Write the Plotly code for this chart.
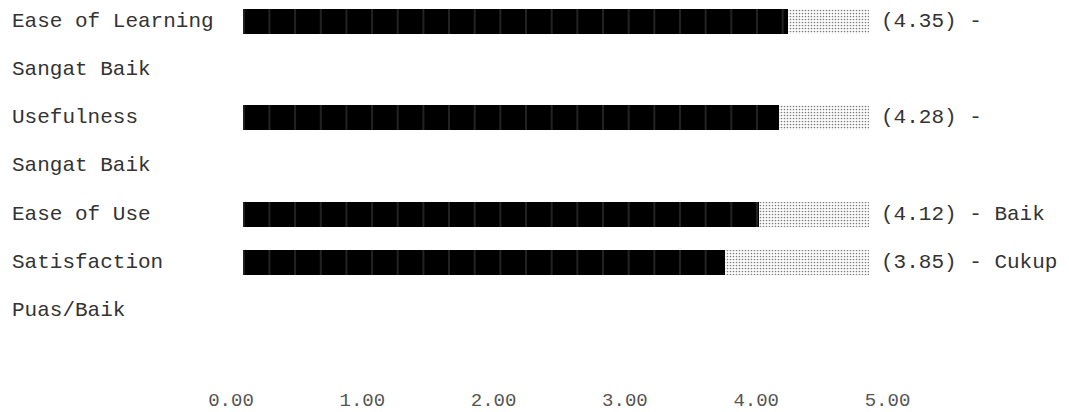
import plotly.graph_objects as go

# ---------------- data ----------------
categories = ["Ease of Learning", "Usefulness", "Ease of Use", "Satisfaction"]
scores = [4.35, 4.28, 4.12, 3.85]
ratings = ["Sangat Baik", "Sangat Baik", "Baik", "Cukup Puas/Baik"]
scale_max = 5.0
tick_values = [0, 1, 2, 3, 4, 5]
tick_labels = ["0.00", "1.00", "2.00", "3.00", "4.00", "5.00"]

# ---------------- layout parameters ----------------
W, H = 1069, 412
FONT = "Courier New, Liberation Mono, monospace"
TEXT_COLOR = "#333333"
BAR_LEFT_PX, BAR_RIGHT_PX = 243, 869      # pixel of 0 and scale_max on bar axis
RULER0_PX, RULER_STEP_PX = 231, 131.3     # ruler line (text ruler in reference)
ROW0_PX, ROW_H_PX = 21, 48.3
PLOT_BOTTOM_PX = 386
SUFFIX_CHARS = 14                          # room left on the line after the bar
BAR_THICK_PX = 25


def wrap_suffix(head, words, limit):
    line, rest = head, []
    for w in words:
        cand = line + " " + w
        if not rest and len(cand) <= limit:
            line = cand
        else:
            rest.append(w)
    return line, " ".join(rest)


bar_rows, suffix_text, cont_rows, cont_text = [], [], [], []
r = 0
for cat, v, rt in zip(categories, scores, ratings):
    first, rest = wrap_suffix(f"({v:.2f}) -", rt.split(), SUFFIX_CHARS)
    bar_rows.append(r)
    suffix_text.append(first)
    r += 1
    if rest:
        cont_rows.append(r)
        cont_text.append(rest)
        r += 1

remain = [scale_max - v for v in scores]

fig = go.Figure()
fig.add_trace(go.Bar(
    x=scores, y=bar_rows, orientation="h", width=BAR_THICK_PX / ROW_H_PX,
    marker=dict(color="black", line_width=0,
                pattern=dict(shape="|", size=25.66, solidity=1 / 25.66,
                             fgcolor="#8a8a8a", bgcolor="black")),
    hoverinfo="skip", showlegend=False,
))
fig.add_trace(go.Bar(
    x=remain, base=scores, y=bar_rows, orientation="h", width=BAR_THICK_PX / ROW_H_PX,
    marker=dict(color="white", line_width=0,
                pattern=dict(shape=".", size=3, solidity=0.25,
                             fgcolor="#000000", bgcolor="white")),
    hoverinfo="skip", showlegend=False,
))
# invisible trace that carries the ruler axis
fig.add_trace(go.Scatter(
    x=tick_values, y=[None] * len(tick_values), xaxis="x2", mode="markers",
    hoverinfo="skip", showlegend=False,
))

annotations = []
for cat, row in zip(categories, bar_rows):
    annotations.append(dict(text=cat, x=0, xref="paper", y=row, yref="y",
                            xanchor="left", xshift=10, showarrow=False))
for txt, row in zip(suffix_text, bar_rows):
    annotations.append(dict(text=txt, x=scale_max, xref="x", y=row, yref="y",
                            xanchor="left", xshift=10, showarrow=False))
for txt, row in zip(cont_text, cont_rows):
    annotations.append(dict(text=txt, x=0, xref="paper", y=row, yref="y",
                            xanchor="left", xshift=10, showarrow=False))

units_per_px = scale_max / (BAR_RIGHT_PX - BAR_LEFT_PX)
x_range = [-BAR_LEFT_PX * units_per_px, (W - BAR_LEFT_PX) * units_per_px]
ruler_range = [-RULER0_PX / RULER_STEP_PX, (W - RULER0_PX) / RULER_STEP_PX]
y_range = [(PLOT_BOTTOM_PX - ROW0_PX) / ROW_H_PX, -ROW0_PX / ROW_H_PX]

fig.update_layout(
    width=W, height=H,
    margin=dict(l=0, r=0, t=0, b=H - PLOT_BOTTOM_PX, autoexpand=False),
    paper_bgcolor="white", plot_bgcolor="white",
    barmode="overlay", bargap=0,
    font=dict(family=FONT, size=21, color=TEXT_COLOR),
    annotations=annotations,
    xaxis=dict(range=x_range, visible=False, fixedrange=True, automargin=False),
    xaxis2=dict(range=ruler_range, overlaying="x", side="bottom", anchor="y",
                tickmode="array", tickvals=tick_values, ticktext=tick_labels,
                showgrid=False, zeroline=False, showline=False, ticks="",
                automargin=False, fixedrange=True,
                tickfont=dict(family=FONT, size=19, color="#555555")),
    yaxis=dict(range=y_range, visible=False, fixedrange=True, automargin=False),
)

fig.write_html("out.html", config={"displayModeBar": False},
               post_script="document.body.style.margin='0';document.body.style.overflow='hidden';")
